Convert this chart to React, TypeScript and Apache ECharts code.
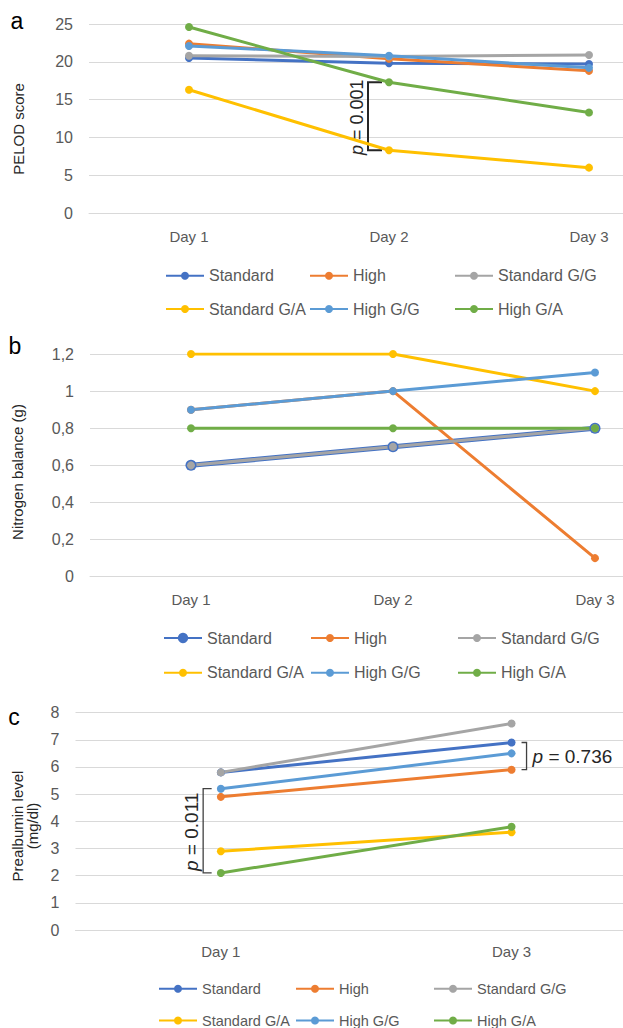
import React, { useEffect, useRef } from "react";
import * as echarts from "echarts";

// ---------- data ----------
const groupNames = ["Standard", "High", "Standard G/G", "Standard G/A", "High G/G", "High G/A"];
const groupColors = ["#4472C4", "#ED7D31", "#A5A5A5", "#FFC000", "#5B9BD5", "#70AD47"];

const daysAB = ["Day 1", "Day 2", "Day 3"];
const daysC = ["Day 1", "Day 3"];

// Panel a: PELOD score
const pelodStandard = [20.5, 19.8, 19.7];
const pelodHigh = [22.4, 20.4, 18.8];
const pelodStdGG = [20.8, 20.7, 20.9];
const pelodStdGA = [16.3, 8.3, 6.0];
const pelodHighGG = [22.1, 20.8, 19.2];
const pelodHighGA = [24.6, 17.3, 13.3];

// Panel b: Nitrogen balance (g)
const nitroStandard = [0.6, 0.7, 0.8];
const nitroHigh = [0.9, 1.0, 0.1];
const nitroStdGG = [0.6, 0.7, 0.8];
const nitroStdGA = [1.2, 1.2, 1.0];
const nitroHighGG = [0.9, 1.0, 1.1];
const nitroHighGA = [0.8, 0.8, 0.8];

// Panel c: Prealbumin level (mg/dl)
const preStandard = [5.8, 6.9];
const preHigh = [4.9, 5.9];
const preStdGG = [5.8, 7.6];
const preStdGA = [2.9, 3.6];
const preHighGG = [5.2, 6.5];
const preHighGA = [2.1, 3.8];

const pAnnotations = ["p = 0.001", "p = 0.011", "p = 0.736"];

// ---------- layout ----------
const FONT = "'Liberation Sans', Arial, sans-serif";
const GRAY = "#595959";

const panels = [
  {
    key: "a",
    cats: daysAB,
    values: [pelodStandard, pelodHigh, pelodStdGG, pelodStdGA, pelodHighGG, pelodHighGA],
    grid: { left: 89, top: 24, width: 600, height: 189 },
    max: 25,
    interval: 5,
    labelMargin: 16,
    legendCols: [165, 309, 454],
    legendRows: [275.7, 309],
    legendFont: 16,
  },
  {
    key: "b",
    cats: daysAB,
    values: [nitroStandard, nitroHigh, nitroStdGG, nitroStdGA, nitroHighGG, nitroHighGA],
    grid: { left: 90, top: 354, width: 606, height: 222.7 },
    max: 1.2,
    interval: 0.2,
    labelMargin: 15,
    legendCols: [163, 310, 457],
    legendRows: [638, 672.7],
    legendFont: 16,
  },
  {
    key: "c",
    cats: daysC,
    values: [preStandard, preHigh, preStdGG, preStdGA, preHighGG, preHighGA],
    grid: { left: 75.5, top: 712.6, width: 581.4, height: 217.4 },
    max: 8,
    interval: 1,
    labelMargin: 14,
    legendCols: [158, 295, 433],
    legendRows: [989.3, 1021],
    legendFont: 14.5,
  },
];

function buildOption() {
  const grid: any[] = [];
  const xAxis: any[] = [];
  const yAxis: any[] = [];
  const series: any[] = [];
  const legend: any[] = [];

  panels.forEach((p, pi) => {
    grid.push({ ...p.grid, containLabel: false, outerBoundsMode: "none" });
    xAxis.push({
      type: "category",
      gridIndex: pi,
      data: p.cats,
      boundaryGap: true,
      axisLine: { show: true, lineStyle: { color: "#D9D9D9", width: 1 } },
      axisTick: { show: false },
      axisLabel: { color: GRAY, fontSize: 15, fontFamily: FONT, margin: p.labelMargin, interval: 0 },
      splitLine: { show: false },
    });
    yAxis.push({
      type: "value",
      gridIndex: pi,
      min: 0,
      max: p.max,
      interval: p.interval,
      axisLine: { show: false },
      axisTick: { show: false },
      axisLabel: {
        color: GRAY,
        fontSize: 16,
        fontFamily: FONT,
        margin: 16,
        formatter: (v: number) => String(Math.round(v * 10) / 10).replace(".", ","),
      },
      splitLine: { lineStyle: { color: "#D9D9D9", width: 1 } },
    });
    groupNames.forEach((name, gi) => {
      const thick = p.key === "b" && gi === 0;
      series.push({
        type: "line",
        name: p.key + "|" + name,
        xAxisIndex: pi,
        yAxisIndex: pi,
        data: p.values[gi],
        symbol: "circle",
        symbolSize: thick ? 11 : 8,
        showSymbol: true,
        lineStyle: { color: groupColors[gi], width: thick ? 5 : 3 },
        itemStyle: { color: groupColors[gi] },
        emphasis: { disabled: true },
        z: 2,
      });
      const col = gi % 3;
      const row = Math.floor(gi / 3);
      const ih = thick ? 13 : 10;
      legend.push({
        data: [p.key + "|" + name],
        left: p.legendCols[col],
        top: p.legendRows[row] - 8,
        padding: 0,
        itemWidth: 38,
        itemHeight: ih,
        selectedMode: false,
        formatter: (n: string) => n.split("|")[1],
        textStyle: { color: GRAY, fontSize: p.legendFont, fontFamily: FONT },
      });
    });
  });

  return {
    animation: false,
    backgroundColor: "#FFFFFF",
    grid,
    xAxis,
    yAxis,
    series,
    legend,
  };
}

export default function App() {
  const ref = useRef<HTMLDivElement>(null);

  useEffect(() => {
    if (!ref.current) return;
    const chart = echarts.init(ref.current, null, { renderer: "svg" });
    chart.setOption(buildOption());

    const px = (g: number, ci: number, v: number) =>
      chart.convertToPixel({ gridIndex: g } as any, [ci, v]) as number[];

    const richP = (fs: number) => ({
      i: { fontStyle: "italic", fontSize: fs, fontFamily: FONT, fill: "#262626" },
      n: { fontSize: fs, fontFamily: FONT, fill: "#262626" },
    });
    const pText = (s: string) => "{i|p}{n|" + s.slice(1) + "}";

    // bracket a: Day 2 between High G/A and Standard G/A
    const aTop = px(0, 1, pelodHighGA[1]);
    const aBot = px(0, 1, pelodStdGA[1]);
    const ax = aTop[0] - 21;
    // bracket c left: Day 1 between High G/G and High G/A
    const cTop = px(2, 0, preHighGG[0]);
    const cBot = px(2, 0, preHighGA[0]);
    const cx = cTop[0] - 17.7;
    // bracket c right: Day 3 between Standard and High
    const dTop = px(2, 1, preStandard[1]);
    const dBot = px(2, 1, preHigh[1]);
    const dx = dTop[0] + 15;

    const letter = (t: string, x: number, y: number) => ({
      type: "text",
      x,
      y,
      style: { text: t, fontSize: 23, fontFamily: FONT, fill: "#000", align: "center", verticalAlign: "middle" },
    });
    const yTitle = (t: string, x: number, y: number) => ({
      type: "text",
      x,
      y,
      rotation: Math.PI / 2,
      style: {
        text: t,
        fontSize: 15,
        lineHeight: 15,
        fontFamily: FONT,
        fill: "#262626",
        align: "center",
        verticalAlign: "middle",
      },
    });

    chart.setOption({
      graphic: [
        letter("a", 17, 21),
        letter("b", 15, 346),
        letter("c", 14, 717),
        yTitle("PELOD score", 18, 129),
        yTitle("Nitrogen balance (g)", 17, 472),
        yTitle("Prealbumin level\n(mg/dl)", 25, 826),
        {
          type: "polyline",
          shape: { points: [[ax + 14, aTop[1]], [ax, aTop[1]], [ax, aBot[1]], [ax + 14, aBot[1]]] },
          style: { stroke: "#262626", lineWidth: 2, fill: null },
        },
        {
          type: "text",
          x: ax - 11,
          y: (aTop[1] + aBot[1]) / 2 + 1,
          rotation: Math.PI / 2,
          style: { text: pText(pAnnotations[0]), rich: richP(18), align: "center", verticalAlign: "middle" },
        },
        {
          type: "polyline",
          shape: { points: [[cx + 8.5, cTop[1]], [cx, cTop[1]], [cx, cBot[1]], [cx + 8.5, cBot[1]]] },
          style: { stroke: "#404040", lineWidth: 1.3, fill: null },
        },
        {
          type: "text",
          x: cx - 12,
          y: (cTop[1] + cBot[1]) / 2 + 1,
          rotation: Math.PI / 2,
          style: { text: pText(pAnnotations[1]), rich: richP(19), align: "center", verticalAlign: "middle" },
        },
        {
          type: "polyline",
          shape: { points: [[dx - 5, dTop[1]], [dx, dTop[1]], [dx, dBot[1]], [dx - 5, dBot[1]]] },
          style: { stroke: "#404040", lineWidth: 1.3, fill: null },
        },
        {
          type: "text",
          x: dx + 6,
          y: (dTop[1] + dBot[1]) / 2,
          style: { text: pText(pAnnotations[2]), rich: richP(19), align: "left", verticalAlign: "middle" },
        },
      ],
    });

    return () => chart.dispose();
  }, []);

  return (
    <div
      ref={ref}
      style={{ position: "absolute", left: 0, top: 0, width: 623, height: 1028, background: "#fff" }}
    />
  );
}
